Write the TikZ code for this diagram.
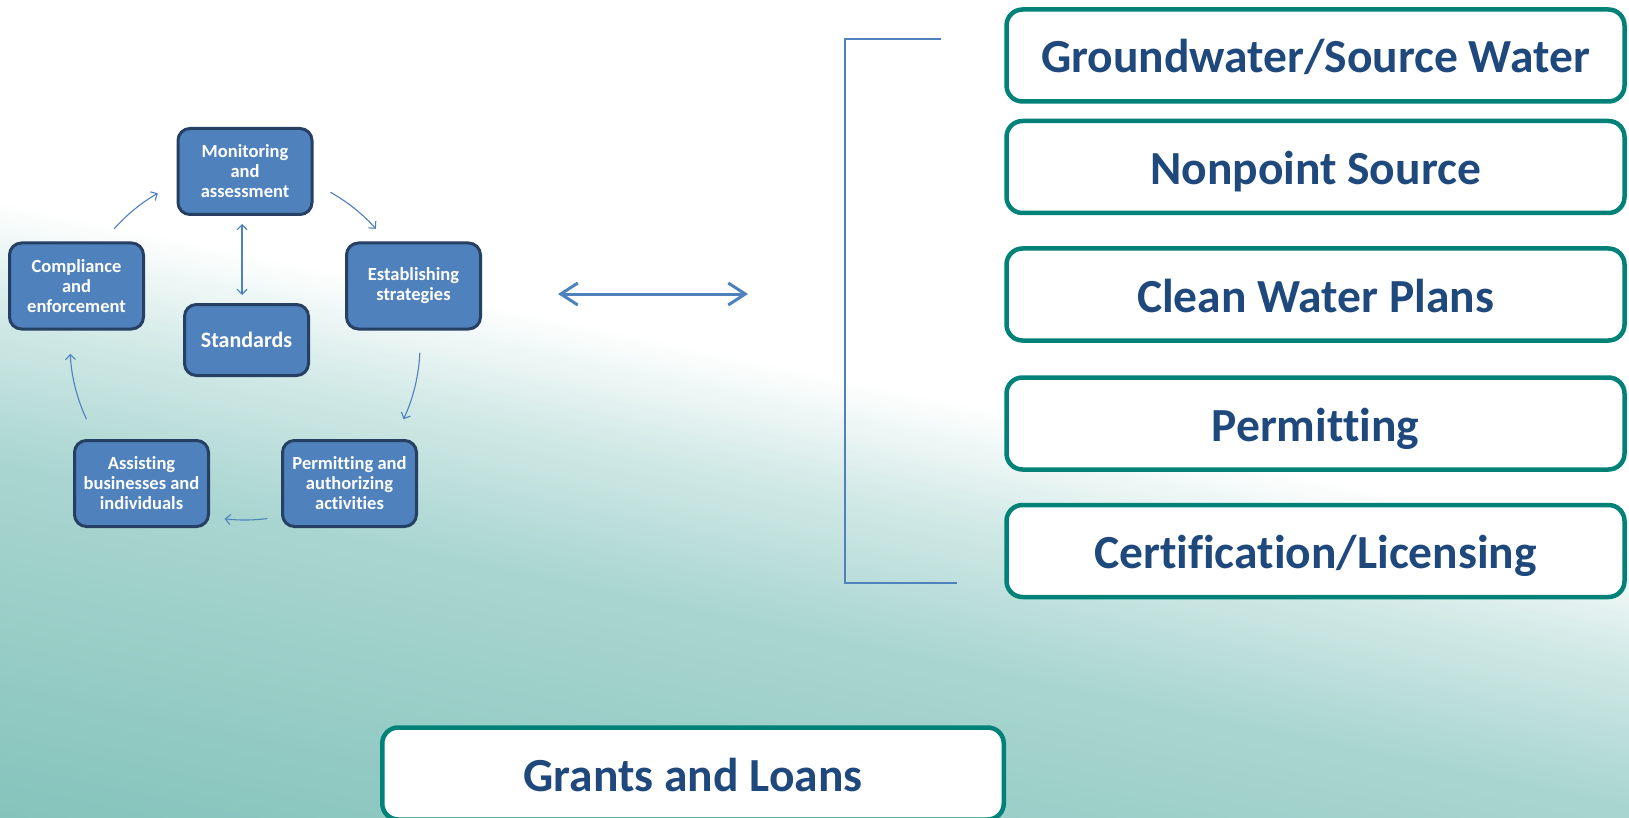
\documentclass[tikz,border=0pt]{standalone}
\usepackage{fontspec}
\setmainfont{Carlito}[Ligatures={NoCommon}]
\usetikzlibrary{arrows.meta}
\definecolor{accblue}{RGB}{79,129,189}
\definecolor{boxedge}{RGB}{38,64,100}
\definecolor{tealedge}{RGB}{0,130,120}
\definecolor{navytext}{RGB}{31,73,125}
\begin{document}
\begin{tikzpicture}[x=1pt,y=-1pt,
  cycbox/.style={draw=boxedge, line width=3pt, fill=accblue, rounded corners=12pt,
    minimum width=134pt, minimum height=86pt, inner sep=0pt, align=center,
    text=white, font=\fontsize{18.5}{20}\selectfont\bfseries},
  areabox/.style={draw=tealedge, line width=4.5pt, fill=white, rounded corners=16pt,
    minimum width=618pt, minimum height=92pt, inner sep=0pt,
    text=navytext, font=\fontsize{47.5}{50}\selectfont\bfseries,
    text height=35pt, text depth=0pt},
  cyc/.style={draw=accblue, line width=1.1pt, -{Straight Barb[length=5pt,width=10pt]}},
  link/.style={draw=accblue, line width=3pt},
  brk/.style={draw=accblue, line width=2pt}
]
\useasboundingbox (0,0) rectangle (1629,818);
% background gradient
\begin{scope}
\clip (0,0) rectangle (1629,818);
\fill[white] (0,0) rectangle (1629,818);
\foreach \s in {0,4,...,640}{
  \pgfmathsetmacro\fa{min(\s/120,1)}
  \pgfmathsetmacro\fb{max(min((\s-120)/140,1),0)}
  \pgfmathsetmacro\fc{max(min((\s-260)/360,1),0)}
  \pgfmathtruncatemacro\Rv{255-47*\fa-38*\fb-37*\fc}
  \pgfmathtruncatemacro\Gv{255-22*\fa-19*\fb-18*\fc}
  \pgfmathtruncatemacro\Bv{255-25*\fa-21*\fb-21*\fc}
  \definecolor{bandc}{RGB}{\Rv,\Gv,\Bv}
  \fill[bandc] (-5,{200+\s-1.05}) -- (1640,{544.4+\s}) -- (1640,{544.4+\s+4.6}) -- (-5,{200+\s-1.05+4.6}) -- cycle;
}
\definecolor{bandl}{RGB}{133,196,188}
\fill[bandl] (-5,{200+644-1.05}) -- (1640,{544.4+644}) -- (1640,900) -- (-5,900) -- cycle;
\end{scope}

% cycle
\coordinate (cen) at (245,345);
\node[cycbox] (mon) at (245,171.5) {Monitoring\\and\\assessment};
\node[cycbox] (est) at (413.5,286) {Establishing\\strategies};
\node[cycbox] (comp) at (76.5,286) {Compliance\\and\\enforcement};
\node[cycbox, minimum width=124pt, minimum height=71pt, font=\fontsize{22}{24}\selectfont\bfseries] (std) at (246.5,340) {Standards};
\node[cycbox] (asst) at (141.5,483.5) {Assisting\\businesses and\\individuals};
\node[cycbox] (perm) at (349.5,483.5) {Permitting and\\authorizing\\activities};

\draw[cyc] ([shift={(-138.4:175)}]cen) arc[start angle=-138.4, end angle=-119.9, radius=175];
\draw[cyc] ([shift={(-60.8:175)}]cen) arc[start angle=-60.8, end angle=-41.6, radius=175];
\draw[cyc] ([shift={(2.6:175)}]cen) arc[start angle=2.6, end angle=25.1, radius=175];
\draw[cyc] ([shift={(82.7:175)}]cen) arc[start angle=82.7, end angle=96.7, radius=175];
\draw[cyc] ([shift={(154.9:175)}]cen) arc[start angle=154.9, end angle=177.1, radius=175];
\draw[cyc, {Straight Barb[length=5pt,width=10pt]}-{Straight Barb[length=5pt,width=10pt]}, shorten <=8pt, shorten >=8pt]
  ([xshift=-3pt]mon.south) -- ([xshift=-3pt]mon.south |- std.north);

% big double arrow
\coordinate (la) at (558,294);
\coordinate (lb) at (748,294);
\draw[link, {Straight Barb[length=17pt,width=22pt]}-{Straight Barb[length=17pt,width=22pt]}] (la) -- (lb);

% bracket
\coordinate (bt) at (941,39);
\coordinate (bc1) at (845,39);
\coordinate (bc2) at (845,583);
\coordinate (bb) at (957,583);
\draw[brk] (bt) -- (bc1) -- (bc2) -- (bb);

% right boxes
\node[areabox] (gw) at (1315.5,55.5) {Groundwater/Source Water};
\node[areabox] (np) at (1315.5,167) {Nonpoint Source};
\node[areabox] (cwp) at (1315.5,294.5) {Clean Water Plans};
\node[areabox] (pmt) at (1315.5,423.5) {Permitting};
\node[areabox] (cert) at (1315.5,551) {Certification/Licensing};
\begin{scope}
\clip (0,0) rectangle (1629,818);
\node[areabox, minimum width=621.5pt] (gl) at (693,773.5) {Grants and Loans};
\end{scope}
\end{tikzpicture}
\end{document}
